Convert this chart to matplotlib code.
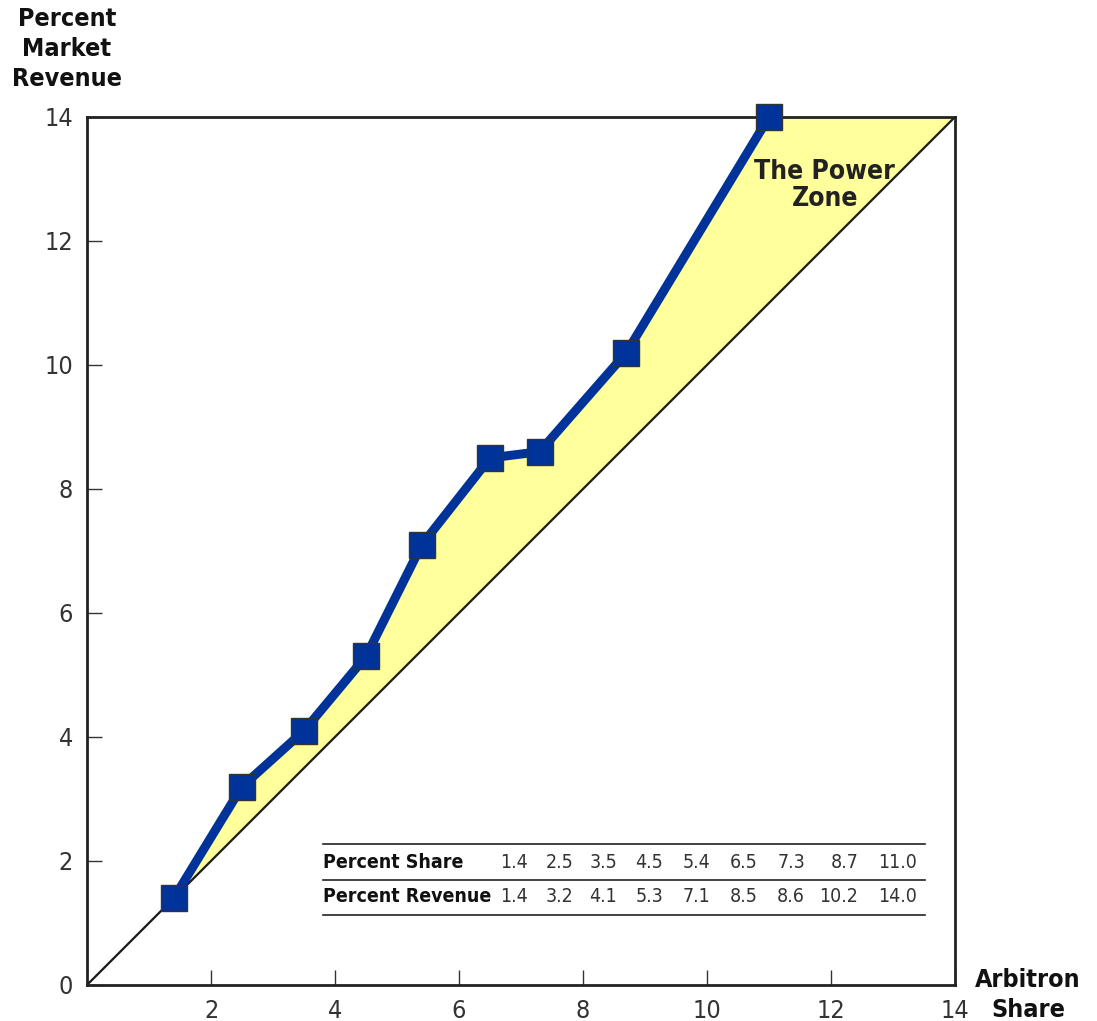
import numpy as np
import matplotlib.pyplot as plt

share = [1.4, 2.5, 3.5, 4.5, 5.4, 6.5, 7.3, 8.7, 11.0]
revenue = [1.4, 3.2, 4.1, 5.3, 7.1, 8.5, 8.6, 10.2, 14.0]
ticks = [2, 4, 6, 8, 10, 12, 14]
yticks = [0, 2, 4, 6, 8, 10, 12, 14]

blue = '#003399'
yellow = '#ffff9c'

plt.rcParams['font.family'] = ['DejaVu Sans']
plt.rcParams['font.stretch'] = 'condensed'

fig = plt.figure(figsize=(10.97, 10.21), dpi=100)
ax = fig.add_axes([0.0793, 0.0353, 0.7913, 0.8502])
ax.set_xlim(0, 14)
ax.set_ylim(0, 14)

# the power zone: between the curve and the break-even diagonal
zone_x = share + [14, share[0]]
zone_y = revenue + [14, share[0]]
ax.fill(zone_x, zone_y, color=yellow, zorder=1, lw=0)
ax.plot([0, 14], [0, 14], color='#1a1a1a', lw=1.6, zorder=2)

ax.plot(share, revenue, color=blue, lw=6.5, zorder=3,
        marker='s', markersize=18.5, markerfacecolor=blue,
        markeredgecolor='#333333', markeredgewidth=1, clip_on=False)

ax.text(11.9, 12.9, 'The Power\nZone', ha='center', va='center',
        fontsize=19, fontweight='bold', color='#222222', linespacing=1.05)

for s in ax.spines.values():
    s.set_linewidth(2)
    s.set_color('#222222')

ax.set_xticks(ticks)
ax.set_yticks(yticks)
ax.tick_params(direction='in', length=11, width=1, color='#333333',
               labelsize=18, labelcolor='#333333', pad=10)

fig.text(0.061, 0.993, 'Percent\nMarket\nRevenue', ha='center', va='top',
         fontsize=18, fontweight='bold', color='#111111', linespacing=1.3)
fig.text(0.937, 0.052, 'Arbitron\nShare', ha='center', va='top',
         fontsize=18, fontweight='bold', color='#111111', linespacing=1.3)

# data table inside the plot
col_right = [7.11, 7.84, 8.55, 9.29, 10.05, 10.81, 11.58, 12.44, 13.39]
row_y = [1.98, 1.42]
for yl in [2.27, 1.69, 1.13]:
    ax.plot([3.81, 13.52], [yl, yl], color='#222222', lw=1.2, zorder=4)
ax.text(3.81, row_y[0], 'Percent Share', ha='left', va='center',
        fontsize=14, fontweight='bold', color='#111111')
ax.text(3.81, row_y[1], 'Percent Revenue', ha='left', va='center',
        fontsize=14, fontweight='bold', color='#111111')
for xr, s, r in zip(col_right, share, revenue):
    ax.text(xr, row_y[0], f'{s:.1f}', ha='right', va='center',
            fontsize=14, color='#333333')
    ax.text(xr, row_y[1], f'{r:.1f}', ha='right', va='center',
            fontsize=14, color='#333333')

plt.savefig('out.png', dpi=100)
